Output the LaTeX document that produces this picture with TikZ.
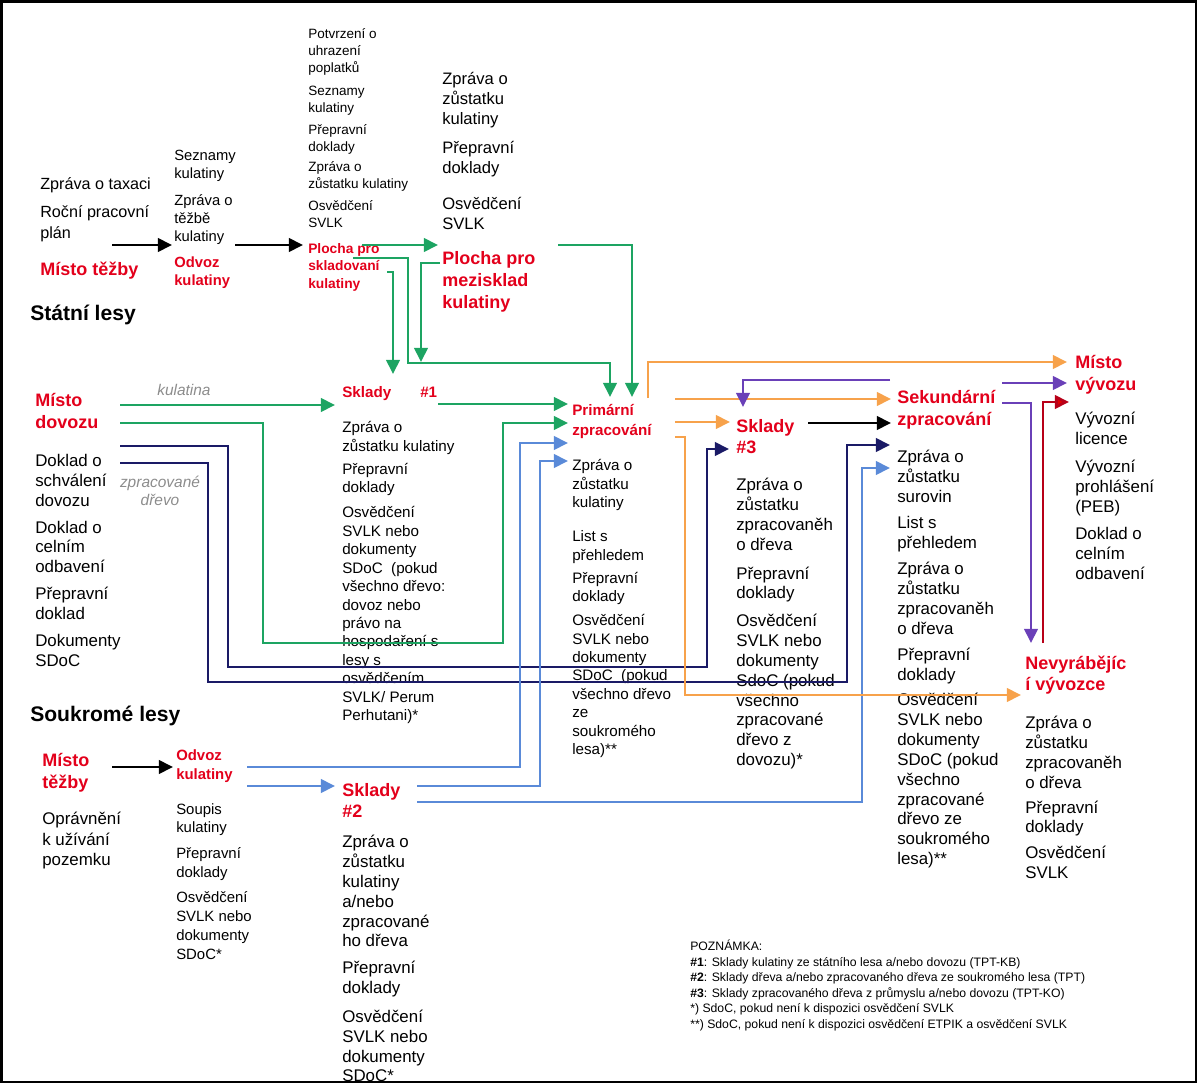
\documentclass[tikz,border=0pt]{standalone}
\usepackage{fontspec}
\setmainfont{Liberation Sans}
\usetikzlibrary{arrows.meta}
\definecolor{labelred}{HTML}{E3001B}
\definecolor{flowgreen}{HTML}{1DA462}
\definecolor{flownavy}{HTML}{1A1A66}
\definecolor{flowblue}{HTML}{5A8AD8}
\definecolor{floworange}{HTML}{F7A24B}
\definecolor{flowpurple}{HTML}{6A40B8}
\definecolor{flowred}{HTML}{B80018}
\colorlet{notegray}{gray!90}
\tikzset{
    % --- texty ---
    doc_list/.style={anchor=north west, inner sep=0pt, align=left,
                     font=\fontsize{12}{14.1}\selectfont},
    doc_small/.style={doc_list, font=\fontsize{10.8}{13.1}\selectfont},
    doc_tiny/.style={doc_list, font=\fontsize{9.6}{12.1}\selectfont},
    place_label/.style={anchor=north west, inner sep=0pt, align=left, text=labelred,
                        font=\fontsize{12.8}{15.2}\selectfont\bfseries},
    place_small/.style={place_label, font=\fontsize{10.8}{13.2}\selectfont\bfseries},
    region/.style={anchor=north west, inner sep=0pt, font=\fontsize{15}{18}\selectfont\bfseries},
    flow_note/.style={anchor=north west, inner sep=0pt, text=notegray,
                      font=\fontsize{11}{12.8}\selectfont\itshape},
    note_text/.style={anchor=north west, inner sep=0pt, align=left,
                      font=\fontsize{8.7}{11}\selectfont},
    % --- spoje ---
    flow/.style={line width=2pt, -{Triangle[length=10pt,width=9.5pt]}},
    flow_black/.style={flow, draw=black},
    flow_green/.style={flow, draw=flowgreen},
    flow_navy/.style={flow, draw=flownavy},
    flow_blue/.style={flow, draw=flowblue},
    flow_orange/.style={flow, draw=floworange},
    flow_purple/.style={flow, draw=flowpurple},
    flow_red/.style={flow, draw=flowred, -{Triangle[length=10pt,width=9.5pt,fill=red!90!black]}}
}

\begin{document}
\begin{tikzpicture}[x=0.025cm, y=-0.025cm]
    \useasboundingbox (0,0) rectangle (1199,1084);
    \draw[line width=2.1pt] (1.5,1.5) rectangle (1196,1082);

    % Statni lesy
    \node[doc_list, font=\fontsize{11.5}{14.9}\selectfont] (taxace) at (40,177)
        {Zpráva o taxaci\\[5.5pt]Roční pracovní\\plán};
    \node[place_label] (tezbaS) at (40,261.5) {Místo těžby};
    \node[doc_small, font=\fontsize{10.5}{12.8}\selectfont] (odvozS_doc) at (174,150)
        {Seznamy\\kulatiny\\[6pt]Zpráva o\\těžbě\\kulatiny};
    \node[place_small, font=\fontsize{10.5}{12.8}\selectfont\bfseries] (odvozS) at (174,256.5)
        {Odvoz\\kulatiny};
    \node[doc_tiny] (plochaS_doc) at (308,28)
        {Potvrzení o\\uhrazení\\poplatků\\[4.3pt]Seznamy\\kulatiny\\[3.6pt]Přepravní\\doklady\\[2pt]%
         Zpráva o\\zůstatku kulatiny\\[3.6pt]Osvědčení\\SVLK};
    \node[place_small, font=\fontsize{9.8}{12.4}\selectfont\bfseries] (plochaS) at (308,243)
        {Plocha pro\\skladovaní\\kulatiny};
    \node[doc_list, font=\fontsize{11.8}{14.2}\selectfont] (mezi_doc) at (442,72)
        {Zpráva o\\zůstatku\\kulatiny\\[6.4pt]Přepravní\\doklady\\[11.4pt]Osvědčení\\SVLK};
    \node[place_label, font=\fontsize{12.8}{15.6}\selectfont\bfseries] (mezi) at (442,251.5)
        {Plocha pro\\mezisklad\\kulatiny};
    \node[region] (statni) at (30,304.5) {Státní lesy};

    % dovoz
    \node[place_label, font=\fontsize{12.8}{15.6}\selectfont\bfseries] (dovoz) at (35,393.5)
        {Místo\\dovozu};
    \node[flow_note] (kulatina) at (157,384) {kulatina};
    \node[doc_list] (dovoz_doc) at (35,454)
        {Doklad o\\schválení\\dovozu\\[5pt]Doklad o\\celním\\odbavení\\[5pt]Přepravní\\doklad\\[5pt]%
         Dokumenty\\SDoC};
    \node[flow_note, align=center, anchor=north] (zprac) at (160,476) {zpracované\\dřevo};

    % sklady #1, primarni zpracovani
    \node[place_small] (skl1) at (342,386.5) {Sklady};
    \node[place_small] (skl1_num) at (420,386.5) {\#1};
    \node[doc_small] (skl1_doc) at (342,421.5)
        {Zpráva o\\zůstatku kulatiny\\[3.3pt]Přepravní\\doklady\\[4.7pt]Osvědčení\\SVLK nebo\\%
         dokumenty\\SDoC~ (pokud\\všechno dřevo:\\dovoz nebo\\právo na\\hospodaření s\\lesy s\\%
         osvědčením\\SVLK/ Perum\\Perhutani)*};
    \node[place_small, font=\fontsize{10.8}{13.9}\selectfont\bfseries] (prim) at (572,404.5)
        {Primární\\zpracování};
    \node[doc_small] (prim_doc) at (572,459.5)
        {Zpráva o\\zůstatku\\kulatiny\\[11pt]List s\\přehledem\\[3.3pt]Přepravní\\doklady\\[4pt]%
         Osvědčení\\SVLK nebo\\dokumenty\\SDoC~ (pokud\\všechno dřevo\\ze\\soukromého\\lesa)**};

    % sklady #3, sekundarni zpracovani, vyvoz
    \node[place_label, font=\fontsize{12.8}{15}\selectfont\bfseries] (skl3) at (736,419.5) {Sklady\\\#3};
    \node[doc_list] (skl3_doc) at (736,478)
        {Zpráva o\\zůstatku\\zpracovaněh\\o dřeva\\[6.4pt]Přepravní\\doklady\\[5.7pt]Osvědčení\\%
         SVLK nebo\\dokumenty\\SdoC (pokud\\všechno\\zpracované\\dřevo z\\dovozu)*};
    \node[place_label, font=\fontsize{12.8}{15}\selectfont\bfseries] (sek) at (897,390.5)
        {Sekundární\\zpracování};
    \node[doc_list] (sek_doc) at (897,450)
        {Zpráva o\\zůstatku\\surovin\\[4.3pt]List s\\přehledem\\[5pt]Zpráva o\\zůstatku\\%
         zpracovaněh\\o dřeva\\[4.3pt]Přepravní\\doklady\\[4.3pt]Osvědčení\\SVLK nebo\\%
         dokumenty\\SDoC (pokud\\všechno\\zpracované\\dřevo ze\\soukromého\\lesa)**};
    \node[place_label, font=\fontsize{12.8}{15}\selectfont\bfseries] (vyvoz) at (1075,355.5)
        {Místo\\vývozu};
    \node[doc_list] (vyvoz_doc) at (1075,412)
        {Vývozní\\licence\\[5.7pt]Vývozní\\prohlášení\\(PEB)\\[5.7pt]Doklad o\\celním\\odbavení};
    \node[place_label, font=\fontsize{12.8}{15}\selectfont\bfseries] (nevyr) at (1025,655.5)
        {Nevyrábějíc\\í vývozce};
    \node[doc_list] (nevyr_doc) at (1025,716)
        {Zpráva o\\zůstatku\\zpracovaněh\\o dřeva\\[3.6pt]Přepravní\\doklady\\[4.3pt]Osvědčení\\SVLK};

    % Soukrome lesy
    \node[region] (soukrome) at (30,705.5) {Soukromé lesy};
    \node[place_label, font=\fontsize{12.8}{15.6}\selectfont\bfseries] (tezbaP) at (42,753.5)
        {Místo\\těžby};
    \node[doc_list, font=\fontsize{12}{14.6}\selectfont] (tezbaP_doc) at (42,812)
        {Oprávnění\\k užívání\\pozemku};
    \node[place_small, font=\fontsize{10.6}{13.4}\selectfont\bfseries] (odvozP) at (176,749.5)
        {Odvoz\\kulatiny};
    \node[doc_small, font=\fontsize{10.6}{13.3}\selectfont] (odvozP_doc) at (176,803)
        {Soupis\\kulatiny\\[5pt]Přepravní\\doklady\\[5pt]Osvědčení\\SVLK nebo\\dokumenty\\SDoC*};
    \node[place_label, font=\fontsize{12.8}{15}\selectfont\bfseries] (skl2) at (342,783.5) {Sklady\\\#2};
    \node[doc_list] (skl2_doc) at (342,835)
        {Zpráva o\\zůstatku\\kulatiny\\a/nebo\\zpracované\\ho dřeva\\[5pt]Přepravní\\doklady\\[6.4pt]%
         Osvědčení\\SVLK nebo\\dokumenty\\SDoC*};

    \node[note_text] (poznamka) at (690,940)
        {POZNÁMKA:\\
         \textbf{\#1}: Sklady kulatiny ze státního lesa a/nebo dovozu (TPT-KB)\\
         \textbf{\#2}: Sklady dřeva a/nebo zpracovaného dřeva ze soukromého lesa (TPT)\\
         \textbf{\#3}: Sklady zpracovaného dřeva z průmyslu a/nebo dovozu (TPT-KO)\\
         *) SdoC, pokud není k dispozici osvědčení SVLK\\
         **) SdoC, pokud není k dispozici osvědčení ETPIK a osvědčení SVLK};

    % koncove body spoju
    \coordinate (tezbaS_out) at (112,245);   \coordinate (odvozS_in) at (172,245);
    \coordinate (odvozS_out) at (235,245);   \coordinate (plochaS_in) at (303,245);
    \coordinate (plochaS_g1) at (362,245);   \coordinate (mezi_in) at (438,245);
    \coordinate (plochaS_g2) at (387,272);   \coordinate (skl1_top) at (393,374);
    \coordinate (plochaS_g3) at (353,258);   \coordinate (prim_top1) at (610,397);
    \coordinate (mezi_g1) at (440,263);      \coordinate (mezi_join) at (421,362);
    \coordinate (mezi_g2) at (558,245);      \coordinate (prim_top2) at (632,397);
    \coordinate (dovoz_g1) at (120,405);     \coordinate (skl1_in) at (335,405);
    \coordinate (skl1_out) at (438,404);     \coordinate (prim_in1) at (568,404);
    \coordinate (dovoz_g2) at (120,423);     \coordinate (prim_in2) at (568,423);
    \coordinate (dovoz_n1) at (120,446);     \coordinate (skl3_in_n) at (729,449);
    \coordinate (dovoz_n2) at (120,463);     \coordinate (sek_in_n) at (890,445);
    \coordinate (tezbaP_out) at (112,767);   \coordinate (odvozP_in) at (173,767);
    \coordinate (odvozP_b1) at (247,767);    \coordinate (prim_in3) at (568,443);
    \coordinate (odvozP_b2) at (247,786);    \coordinate (skl2_in) at (335,786);
    \coordinate (skl2_b1) at (417,786);      \coordinate (prim_in4) at (568,461);
    \coordinate (skl2_b2) at (417,802);      \coordinate (sek_in_lb) at (890,468);
    \coordinate (prim_o1) at (648,398);      \coordinate (vyvoz_in_o) at (1067,362);
    \coordinate (prim_o2) at (675,399);      \coordinate (sek_in_o) at (891,399);
    \coordinate (prim_o3) at (675,422);      \coordinate (skl3_in_o) at (730,422);
    \coordinate (prim_o4) at (675,437);      \coordinate (nevyr_in) at (1021,695);
    \coordinate (skl3_out) at (808,423);     \coordinate (sek_in_b) at (891,423);
    \coordinate (sek_p1) at (890,380);       \coordinate (skl3_top) at (743,407);
    \coordinate (sek_p2) at (1002,383);      \coordinate (vyvoz_in_p) at (1067,383);
    \coordinate (sek_p3) at (1002,403);      \coordinate (nevyr_top) at (1031,643);
    \coordinate (nevyr_r) at (1043,643);     \coordinate (vyvoz_in_r) at (1069,402);

    % cerne
    \draw[flow_black] (tezbaS_out) -- (odvozS_in);
    \draw[flow_black] (odvozS_out) -- (plochaS_in);
    \draw[flow_black] (skl3_out) -- (sek_in_b);
    \draw[flow_black] (tezbaP_out) -- (odvozP_in);

    % kulatina
    \draw[flow_green] (plochaS_g1) -- (mezi_in);
    \draw[flow_green] (plochaS_g2) -| (skl1_top);
    \draw[flow_green] (plochaS_g3) -| (408,363) -| (prim_top1);
    \draw[flow_green] (mezi_g1) -| (mezi_join);
    \draw[flow_green] (mezi_g2) -| (prim_top2);
    \draw[flow_green] (dovoz_g1) -- (skl1_in);
    \draw[flow_green] (skl1_out) -- (prim_in1);
    \draw[flow_green] (dovoz_g2) -| (263,643) -| (503,423) -- (prim_in2);

    % zpracovane drevo z dovozu
    \draw[flow_navy] (dovoz_n1) -| (228,667) -| (707,449) -- (skl3_in_n);
    \draw[flow_navy] (dovoz_n2) -| (208,682) -| (847,445) -- (sek_in_n);

    % soukrome lesy
    \draw[flow_blue] (odvozP_b1) -| (520,443) -- (prim_in3);
    \draw[flow_blue] (odvozP_b2) -- (skl2_in);
    \draw[flow_blue] (skl2_b1) -| (540,461) -- (prim_in4);
    \draw[flow_blue] (skl2_b2) -| (862,468) -- (sek_in_lb);

    % z primarniho zpracovani
    \draw[flow_orange] (prim_o1) |- (vyvoz_in_o);
    \draw[flow_orange] (prim_o2) -- (sek_in_o);
    \draw[flow_orange] (prim_o3) -- (skl3_in_o);
    \draw[flow_orange] (prim_o4) -| (685,695) -- (nevyr_in);

    % ze sekundarniho zpracovani
    \draw[flow_purple] (sek_p1) -| (skl3_top);
    \draw[flow_purple] (sek_p2) -- (vyvoz_in_p);
    \draw[flow_purple] (sek_p3) -| (nevyr_top);
    \draw[flow_red] (nevyr_r) |- (vyvoz_in_r);
\end{tikzpicture}
\end{document}
